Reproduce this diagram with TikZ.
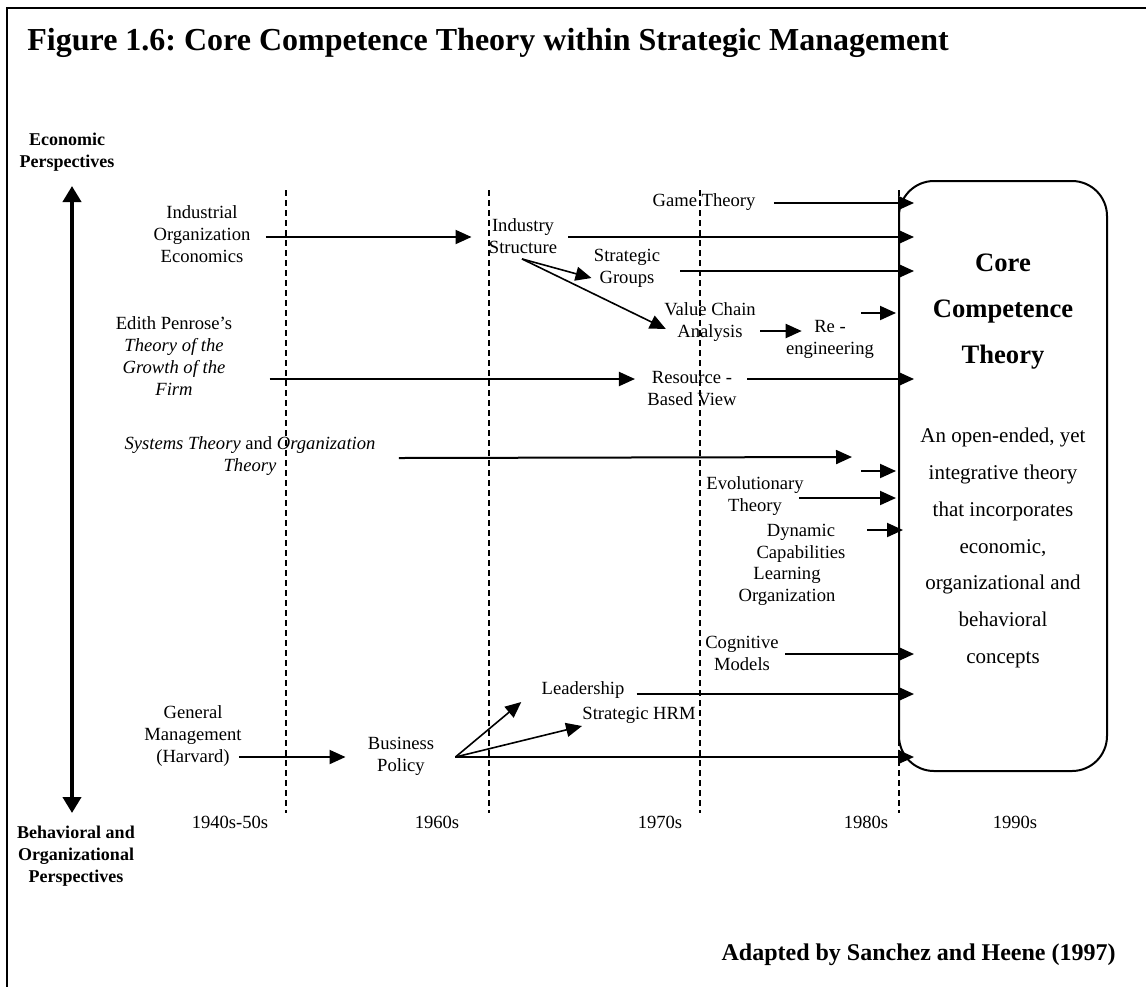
\documentclass[tikz,border=0pt]{standalone}
\usepackage{fontspec}
\setmainfont{Liberation Serif}
\usepackage{tikz}
\usetikzlibrary{arrows.meta,calc}
\frenchspacing

\begin{document}
\begin{tikzpicture}[x=0.5pt,y=-0.5pt,
	txt/.style={align=center,inner sep=0pt,font=\fontsize{9.3}{11}\selectfont},
	hd/.style={align=center,inner sep=0pt,font=\fontsize{9}{11}\selectfont\bfseries},
	arr/.style={line width=1pt,-{Triangle[length=8pt,width=7pt]}},
	fan/.style={line width=0.8pt,-{Triangle[length=8pt,width=7pt]}},
	era/.style={line width=0.8pt,dash pattern=on 3pt off 2pt}]
	\useasboundingbox (0,0) rectangle (1146,987);
	\draw[line width=1.2pt] (1146,8) -- (7,8) -- (7,987);
	\node[anchor=base west,inner sep=0pt,font=\fontsize{16}{19}\selectfont\bfseries] (title) at (27,50) {Figure 1.6: Core Competence Theory within Strategic Management};
	
	\foreach \x in {286,489,700,899}
		\draw[era] (\x,190) -- (\x,813);
	\foreach \yx/\yr [count=\i] in {230/1940s-50s,437/1960s,660/1970s,866/1980s,1015/1990s}
		\node[txt] (yr\i) at (\yx,822) {\yr};
	
	\node[hd] (econ) at (67,152) {Economic\\Perspectives};
	\node[hd] (behav) at (76,856) {Behavioral and\\Organizational\\Perspectives};
	\coordinate (top) at (72,186);
	\coordinate (bot) at (72,813);
	\draw[line width=2pt,{Triangle[length=8pt,width=9pt]}-{Triangle[length=8pt,width=9pt]}] (top) -- (bot);
	
	\node[draw,line width=1pt,rounded corners=17.5pt,fill=white,minimum width=104pt,minimum height=295pt,inner sep=0pt] (core) at (1003,476) {};
	\node[align=center,inner sep=0pt,font=\fontsize{13.3}{23}\selectfont\bfseries] (cct) at (1003,312) {Core\\Competence\\Theory};
	\node[align=center,inner sep=0pt,font=\fontsize{10.5}{18.35}\selectfont] (desc) at (1003,548) {An open-ended, yet\\integrative theory\\that incorporates\\economic,\\organizational and\\behavioral\\concepts};
	
	\node[txt] (io) at (202,234) {Industrial\\Organization\\Economics};
	\node[txt] (is) at (523,236) {Industry\\Structure};
	\node[txt] (gt) at (704,202) {Game Theory};
	\node[txt] (sg) at (627,268) {Strategic\\Groups};
	\node[txt] (vca) at (710,322) {Value Chain\\Analysis};
	\node[txt] (reng) at (830,339) {Re -\\engineering};
	\node[txt] (pen) at (174,356) {Edith Penrose's\\\textit{Theory of the}\\\textit{Growth of the}\\\textit{Firm}};
	\node[txt] (rbv) at (692,389) {Resource -\\Based View};
	\node[txt] (sys) at (250,456) {\textit{Systems Theory} and \textit{Organization}\\\textit{Theory}};
	\node[txt] (evo) at (755,496) {Evolutionary\\Theory};
	\node[txt] (dyn) at (801,543) {Dynamic\\Capabilities};
	\node[txt] (lo) at (787,586) {Learning\\Organization};
	\node[txt] (cog) at (742,653) {Cognitive\\Models};
	\node[txt] (lead) at (583,690) {Leadership};
	\node[txt] (hrm) at (639,715) {Strategic HRM};
	\node[txt] (gm) at (193,736) {General\\Management\\(Harvard)};
	\node[txt] (bp) at (401,756) {Business\\Policy};
	
	\draw[arr] ($(io.east)+(15,3)$) -- ($(is.west)+(-17,1)$);
	\draw[arr] ($(pen.east)+(37,23)$) -- ($(rbv.west)+(-12,-10)$);
	\draw[arr] ($(gm.east)+(-3,21)$) -- ($(bp.west)+(-22,1)$);
	\draw[fan] ($(is.south)+(-1,5)$) -- ($(sg.west)+(-2,10)$);
	\draw[fan] ($(is.south)+(-1,5)$) -- ($(vca.west)+(2,7)$);
	\draw[arr] ($(vca.east)+(4,9)$) -- ($(reng.west)+(16,-8)$);
	\draw[fan] ($(bp.east)+(21,1)$) -- ($(lead.west)+(-20,12)$);
	\draw[fan] ($(bp.east)+(21,1)$) -- ($(hrm.west)+(0,11)$);
	
	\draw[arr] ($(gt.east)+(18,1)$) -- ($(core.west|-gt.east)+(16,1)$);
	\draw[arr] ($(is.east)+(11,1)$) -- ($(core.west|-is.east)+(16,1)$);
	\draw[arr] ($(sg.east)+(20,3)$) -- ($(core.west|-sg.east)+(16,3)$);
	\draw[arr] ($(rbv.east)+(10,-10)$) -- ($(core.west|-rbv.east)+(16,-10)$);
	\draw[arr] ($(evo.east)+(-5,2)$) -- ($(core.west|-evo.east)+(-2,2)$);
	\draw[arr] ($(cog.east)+(6,1)$) -- ($(core.west|-cog.east)+(16,1)$);
	\draw[arr] ($(lead.east)+(12,4)$) -- ($(core.west|-lead.east)+(16,4)$);
	\draw[arr] ($(bp.east)+(21,1)$) -- ($(core.west|-bp.east)+(16,1)$);
	
	\coordinate (s1) at (861,313);
	\coordinate (s2) at (861,471);
	\coordinate (s3) at (867,530);
	\coordinate (sysend) at (852,457);
	\draw[arr] (s1) -- ($(s1-|core.west)+(-2,0)$);
	\draw[arr] (s2) -- ($(s2-|core.west)+(-2,0)$);
	\draw[arr] (s3) -- ($(s3-|core.west)+(5,0)$);
	\draw[arr] ($(sys.east)+(23,2)$) -- (sysend);
	
	\node[anchor=east,inner sep=0pt,font=\fontsize{12}{14}\selectfont\bfseries] (src) at (1116,955) {Adapted by Sanchez and Heene (1997)};
\end{tikzpicture}
\end{document}
